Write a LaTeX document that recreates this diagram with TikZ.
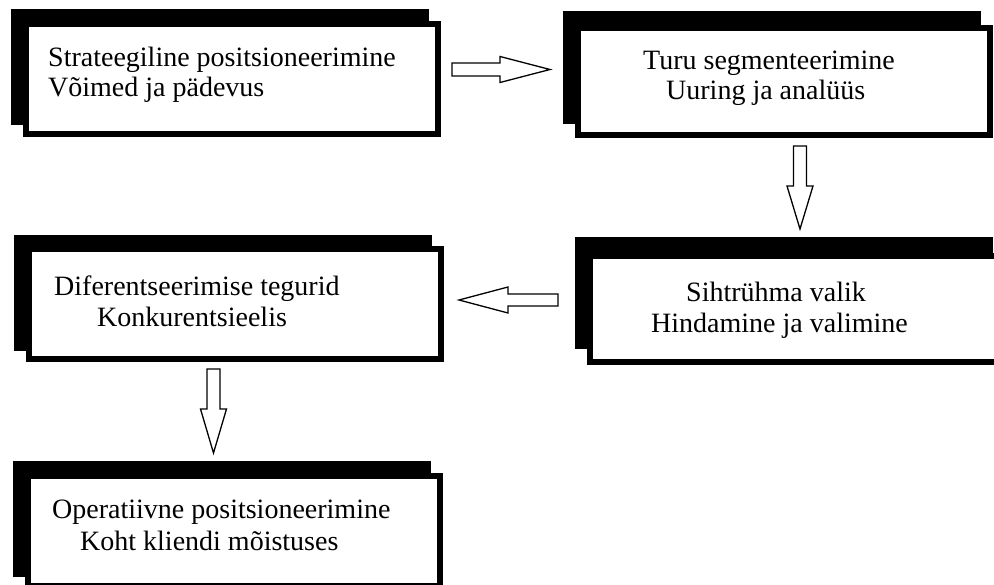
\documentclass[tikz,border=0pt]{standalone}
\usepackage{fontspec}
\setmainfont{Liberation Serif}
\usetikzlibrary{calc}

% A framed card with a solid black shadow offset up and to the left.
% #1 name, #2 x, #3 y (top left outer corner), #4 height, #5/#6 shadow offset
\newcommand{\cardbox}[6]{%
  \fill[black] (#2+#5,#3+#6) rectangle ++(418,#4);
  \node[card, minimum height=#4pt-6pt] (#1) at (#2,#3) {};
}
% Hollow block arrow: #1 start coordinate, #2 direction angle,
% #3 total length, #4 head length, #5 shaft half-width
\newcommand{\blockarr}[5]{%
  \draw[arrowline, shift={(#1)}, rotate=#2]
    (0,-#5) -- ({#3-#4},-#5) -- ({#3-#4},-13) -- (#3,0)
    -- ({#3-#4},13) -- ({#3-#4},#5) -- (0,#5) -- cycle;
}

\begin{document}
\begin{tikzpicture}[x=1pt,y=-1pt,
  card/.style={draw=black, fill=white, line width=6pt,
    minimum width=412pt, anchor=north west, inner sep=0pt},
  label/.style={anchor=base west, inner sep=0pt,
    font=\fontsize{28}{31}\selectfont},
  arrowline/.style={draw=black, fill=white, line width=1.3pt, line join=miter}]

\useasboundingbox (0,0) rectangle (994,585);
\clip (0,0) rectangle (994,585);

% cards
\cardbox{b1}{23}{21}{116}{-12}{-12}
\cardbox{b2}{575}{25}{113}{-12}{-14}
\cardbox{b3}{26}{246}{116}{-12}{-11}
\cardbox{b4}{587}{253}{112}{-12}{-16}
\cardbox{b5}{25}{473}{116}{-12}{-12}

% texts
\node[label] (t1a) at (48,67) {Strateegiline positsioneerimine};
\node[label] (t1b) at (48,97) {Võimed ja pädevus};
\node[label] (t2a) at (643,70) {Turu segmenteerimine};
\node[label] (t2b) at (666,100) {Uuring ja analüüs};
\node[label] (t3a) at (54,296) {Diferentseerimise tegurid};
\node[label] (t3b) at (97,327) {Konkurentsieelis};
\node[label] (t4a) at (686,302) {Sihtrühma valik};
\node[label] (t4b) at (651,333) {Hindamine ja valimine};
\node[label] (t5a) at (52,518) {Operatiivne positsioneerimine};
\node[label] (t5b) at (80,550) {Koht kliendi mõistuses};

% arrow anchors
\coordinate (a1) at ($(b1.east)+(11,-9.5)$);
\coordinate (a2) at ($(b2.south)+(16,8)$);
\coordinate (a3) at ($(b4.west)+(-29,-9)$);
\coordinate (a4) at ($(b3.south)+(-21.5,7)$);

\blockarr{a1}{0}{98}{50}{6.5}
\blockarr{a2}{-90}{83}{43}{6.5}
\blockarr{a3}{180}{99}{49}{6}
\blockarr{a4}{-90}{84}{44}{6.5}
\end{tikzpicture}
\end{document}
